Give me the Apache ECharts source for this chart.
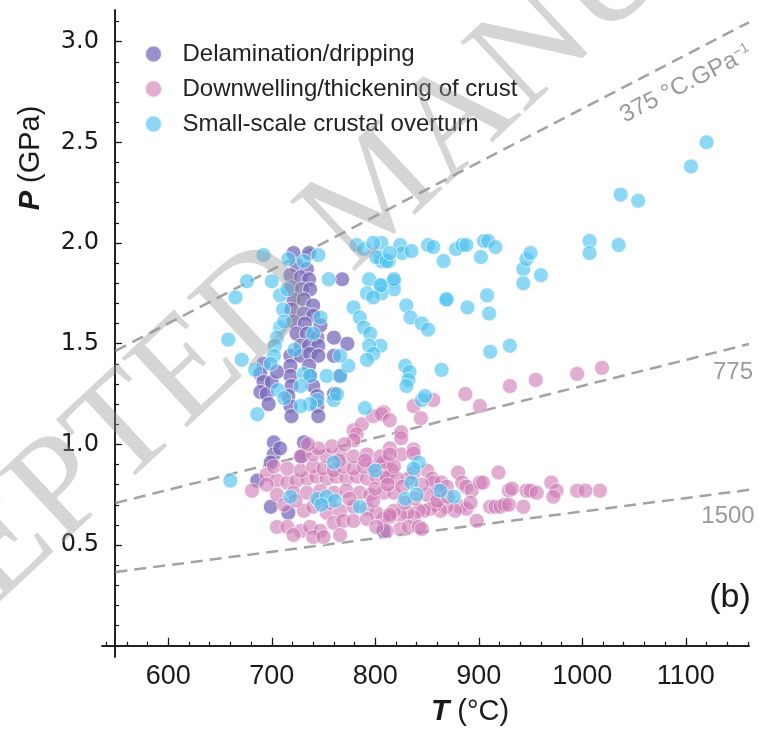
<!DOCTYPE html>
<html>
<head>
<meta charset="utf-8">
<script src="https://cdn.jsdelivr.net/npm/echarts@6/dist/echarts.min.js"></script>
<style>
  html, body { margin: 0; padding: 0; background: #fff; }
  #chart { width: 759px; height: 736px; }
</style>
</head>
<body>
<div id="chart"></div>
<script>
// series names (legend order)
const seriesNames = ['Delamination/dripping', 'Downwelling/thickening of crust', 'Small-scale crustal overturn'];

// [T (°C), P (GPa)]
const delamination = [
  [721,1.95],[736,1.95],[724,1.89],[734,1.87],[718,1.84],[728,1.83],[736,1.82],[719,1.78],[729,1.77],[737,1.77],
  [768,1.82],[721,1.72],[731,1.72],[740,1.69],[719,1.67],[731,1.65],[740,1.64],[721,1.61],[732,1.60],[724,1.55],
  [734,1.55],[744,1.53],[728,1.49],[736,1.49],[745,1.49],[718,1.44],[728,1.44],[737,1.45],[745,1.44],[747,1.59],
  [760,1.53],[773,1.50],[760,1.44],[766,1.34],[692,1.40],[689,1.35],[692,1.31],[689,1.26],[695,1.25],[718,1.39],
  [718,1.34],[719,1.29],[716,1.24],[718,1.19],[719,1.14],[736,1.39],[737,1.34],[740,1.29],[744,1.24],[744,1.19],
  [745,1.14],[760,1.25],[702,1.01],[731,1.01],[702,0.95],[699,0.91],[708,0.98],[729,0.94],[686,0.82],[699,0.69],
  [716,0.66],[808,0.57],[700,1.31],[705,1.36],[697,1.20]
];
const downwelling = [
  [808,1.16],[837,1.19],[856,1.22],[844,1.13],[887,1.25],[901,1.19],[930,1.29],[955,1.32],[995,1.35],[1019,1.38],
  [825,1.06],[825,1.03],[814,0.98],[837,0.975],[825,0.95],[837,0.955],[811,0.91],[816,0.87],[811,0.83],[850,0.87],
  [855,0.83],[856,0.81],[837,0.86],[832,0.83],[864,0.81],[869,0.79],[861,0.77],[880,0.86],[884,0.81],[888,0.79],
  [893,0.77],[901,0.81],[904,0.81],[919,0.86],[929,0.77],[932,0.78],[946,0.77],[950,0.77],[956,0.76],[970,0.81],
  [975,0.77],[972,0.74],[995,0.77],[1003,0.77],[1017,0.77],[911,0.69],[916,0.69],[921,0.69],[925,0.70],[929,0.70],
  [943,0.69],[898,0.62],[882,0.69],[888,0.68],[892,0.71],[877,0.67],[869,0.69],[863,0.67],[858,0.70],[853,0.68],
  [847,0.67],[842,0.67],[837,0.64],[831,0.66],[824,0.65],[818,0.67],[814,0.64],[808,0.63],[824,0.58],[832,0.59],
  [842,0.59],[845,0.58],[811,0.57],[779,1.07],[787,1.10],[798,1.14],[806,1.15],[814,1.12],[782,1.05],[779,1.02],
  [681,0.77],[695,0.85],[705,0.82],[715,0.81],[724,0.82],[734,0.83],[743,0.84],[753,0.83],[762,0.84],[772,0.83],
  [782,0.84],[792,0.83],[801,0.84],[811,0.84],[821,0.83],[702,0.89],[715,0.88],[728,0.87],[740,0.89],[750,0.88],
  [760,0.87],[769,0.89],[779,0.88],[789,0.89],[798,0.89],[808,0.91],[818,0.89],[728,0.94],[740,0.95],[753,0.94],
  [766,0.95],[779,0.94],[792,0.95],[805,0.94],[814,0.95],[705,0.75],[721,0.76],[734,0.76],[747,0.77],[760,0.76],
  [772,0.77],[785,0.76],[795,0.75],[808,0.76],[818,0.76],[731,0.67],[740,0.69],[753,0.66],[766,0.67],[779,0.69],
  [792,0.68],[801,0.66],[814,0.65],[705,0.59],[715,0.59],[728,0.57],[737,0.59],[747,0.57],[760,0.61],[769,0.62],
  [779,0.62],[792,0.63],[801,0.59],[721,0.55],[740,0.54],[750,0.54],[766,0.55],[712,0.70],[723,0.72],[745,0.72],
  [756,0.71],[775,0.73],[798,0.72],[758,0.99],[770,1.00],[745,0.98],[735,1.00],[765,0.92],[790,0.92],[800,0.78],
  [812,0.80],[826,0.79],[828,0.71],[838,0.73],[850,0.75],[845,0.80],[860,0.72],[870,0.74],[695,0.80]
];
const overturn = [
  [1120,2.50],[1105,2.38],[1037,2.24],[1054,2.21],[1007,2.01],[1007,1.95],[1035,1.99],[806,2.00],[824,1.99],[826,1.95],
  [835,1.96],[851,1.99],[856,1.98],[866,1.91],[878,1.97],[884,1.99],[888,1.99],[905,2.01],[909,2.01],[916,1.98],
  [902,1.93],[805,1.93],[806,1.91],[813,1.91],[818,1.81],[818,1.77],[806,1.79],[806,1.75],[868,1.72],[869,1.72],
  [889,1.68],[908,1.74],[910,1.65],[943,1.87],[946,1.92],[950,1.95],[943,1.80],[960,1.84],[830,1.69],[834,1.63],
  [845,1.60],[851,1.57],[805,1.49],[911,1.46],[930,1.49],[829,1.39],[833,1.36],[832,1.32],[830,1.29],[864,1.37],
  [845,1.22],[848,1.24],[842,0.91],[837,0.88],[835,0.81],[829,0.73],[840,0.75],[863,0.77],[876,0.74],[665,1.73],
  [676,1.81],[692,1.94],[658,1.52],[671,1.42],[684,1.37],[686,1.15],[708,1.74],[711,1.67],[708,1.58],[705,1.53],
  [703,1.49],[702,1.44],[699,1.40],[716,1.92],[731,1.91],[745,1.94],[755,1.82],[747,1.63],[740,1.55],[731,1.35],
  [737,1.34],[728,1.29],[753,1.34],[766,1.34],[774,1.39],[766,1.44],[779,1.68],[785,1.63],[789,1.58],[795,1.55],
  [794,1.49],[798,1.45],[792,1.42],[794,1.82],[805,1.79],[818,1.82],[782,1.99],[789,1.97],[798,2.00],[801,1.93],
  [811,1.91],[814,1.95],[792,1.75],[798,1.73],[760,1.22],[763,1.25],[744,1.22],[737,1.20],[728,1.19],[790,1.18],
  [660,0.82],[718,0.74],[760,0.91],[744,0.73],[753,0.74],[761,0.72],[748,0.70],[785,0.69],[800,0.87],[700,1.81],
  [715,1.77],[712,1.61],[722,1.47],[706,1.27],[712,1.23]
];

// geotherms, °C/GPa
const gradients = [375, 775, 1500];
const gradientLabels = ['375 °C.GPa{s|−1}', '775', '1500'];
const lineRange = [549, 1161];

// ticks
const xMajor = [600, 700, 800, 900, 1000, 1100];
const xMinor = [540, 560, 580, 600, 620, 640, 660, 680, 700, 720, 740, 760, 780, 800, 820, 840, 860, 880, 900, 920,
  940, 960, 980, 1000, 1020, 1040, 1060, 1080, 1100, 1120, 1140, 1160];
const yMajor = [0.5, 1.0, 1.5, 2.0, 2.5, 3.0];
const yMinor = [0.1, 0.2, 0.3, 0.4, 0.5, 0.6, 0.7, 0.8, 0.9, 1.0, 1.1, 1.2, 1.3, 1.4, 1.5, 1.6, 1.7, 1.8, 1.9, 2.0,
  2.1, 2.2, 2.3, 2.4, 2.5, 2.6, 2.7, 2.8, 2.9, 3.0, 3.1];

const colors = ['#7869b9', '#cd78b4', '#50c3f0'];
const opacities = [0.75, 0.6, 0.65];

const sans = '"Liberation Sans", Arial, sans-serif';

const xRange = { min: 536, max: 1161 };
const yRange = { min: -0.056, max: 3.157 };
const axisColor = '#151515';

function xAxisOf(ticks, len, labels) {
  return {
    type: 'value', min: xRange.min, max: xRange.max, position: 'bottom',
    axisLine: { onZero: true, lineStyle: { color: axisColor, width: 1.5 } },
    axisTick: { inside: true, length: len, customValues: ticks, lineStyle: { color: axisColor, width: 1.2 } },
    axisLabel: labels ? {
      customValues: labels, margin: 6, fontSize: 27, fontFamily: sans, color: '#1a1a1a',
      formatter: v => String(v)
    } : { show: false },
    splitLine: { show: false }
  };
}
function yAxisOf(ticks, len, labels) {
  return {
    type: 'value', min: yRange.min, max: yRange.max, position: 'left', offset: -13,
    axisLine: { lineStyle: { color: axisColor, width: 1.5 } },
    axisTick: { inside: true, length: len, customValues: ticks, lineStyle: { color: axisColor, width: 1.2 } },
    axisLabel: labels ? {
      customValues: labels, margin: 16, fontSize: 24, fontFamily: '"DejaVu Sans", sans-serif', color: '#1a1a1a',
      formatter: v => v.toFixed(1)
    } : { show: false },
    splitLine: { show: false }
  };
}

const lineSeries = gradients.map(g => ({
  type: 'line',
  name: 'g' + g,
  data: lineRange.map(t => [t, t / g]),
  showSymbol: false,
  silent: true,
  lineStyle: { color: '#a3a3a3', width: 2.5, type: [12, 7] },
  z: 1
}));

const pointSets = [delamination, downwelling, overturn];
const scatterSeries = pointSets.map((pts, i) => ({
  type: 'scatter',
  name: seriesNames[i],
  data: pts,
  symbolSize: 15,
  itemStyle: { color: colors[i], opacity: opacities[i], borderColor: '#fff', borderWidth: 1 },
  emphasis: { disabled: true },
  z: 2 + i
}));

const chart = echarts.init(document.getElementById('chart'));
chart.setOption({
  animation: false,
  backgroundColor: '#fff',
  grid: { left: 102, right: 10, top: 10, bottom: 79, outerBoundsMode: 'none' },
  legend: {
    data: seriesNames,
    orient: 'vertical',
    left: 139, top: 37,
    icon: 'circle',
    itemWidth: 48, itemHeight: 17, itemGap: 11,
    textStyle: { fontSize: 24, lineHeight: 24, fontFamily: sans, color: '#222' }
  },
  xAxis: [xAxisOf(xMinor, 4, xMajor), xAxisOf(xMajor, 8, null)],
  yAxis: [yAxisOf(yMinor, 4, yMajor), yAxisOf(yMajor, 7, null)],
  series: lineSeries.concat(scatterSeries),
  graphic: [
    {
      type: 'text', x: 31, y: 158, rotation: Math.PI / 2,
      style: {
        text: '{b|P} (GPa)', fontSize: 29, fontFamily: sans, fill: '#1a1a1a', align: 'center', verticalAlign: 'middle',
        rich: { b: { fontSize: 29, fontFamily: sans, fontWeight: 'bold', fontStyle: 'italic', fill: '#1a1a1a' } }
      }
    },
    {
      type: 'text', x: 470, y: 712,
      style: {
        text: '{b|T} (°C)', fontSize: 29, fontFamily: sans, fill: '#1a1a1a', align: 'center', verticalAlign: 'middle',
        rich: { b: { fontSize: 30, fontFamily: sans, fontWeight: 'bold', fontStyle: 'italic', fill: '#1a1a1a' } }
      }
    },
    {
      type: 'text', x: 730, y: 598,
      style: { text: '(b)', fontSize: 34, fontFamily: sans, fill: '#1a1a1a', align: 'center', verticalAlign: 'middle' }
    },
    {
      type: 'text', x: 686, y: 84, rotation: 27 * Math.PI / 180,
      style: {
        text: gradientLabels[0], fontSize: 24, fontFamily: sans, fill: '#9a9a9a', align: 'center', verticalAlign: 'middle',
        rich: { s: { fontSize: 14, fontFamily: sans, fill: '#9a9a9a', verticalAlign: 'top' } }
      }
    },
    {
      type: 'text', x: 733, y: 372,
      style: { text: gradientLabels[1], fontSize: 24, fontFamily: sans, fill: '#9a9a9a', align: 'center', verticalAlign: 'middle' }
    },
    {
      type: 'text', x: 728, y: 516,
      style: { text: gradientLabels[2], fontSize: 24, fontFamily: sans, fill: '#9a9a9a', align: 'center', verticalAlign: 'middle' }
    },
    {
      type: 'text', x: 380, y: 195, rotation: 43 * Math.PI / 180, z: 100,
      style: {
        text: 'ACCEPTED MANUSCRIPT', fontSize: 145, fontFamily: '"Liberation Serif", serif',
        fill: 'rgba(150,150,150,0.4)', align: 'center', verticalAlign: 'middle'
      }
    }
  ]
});
</script>
</body>
</html>
